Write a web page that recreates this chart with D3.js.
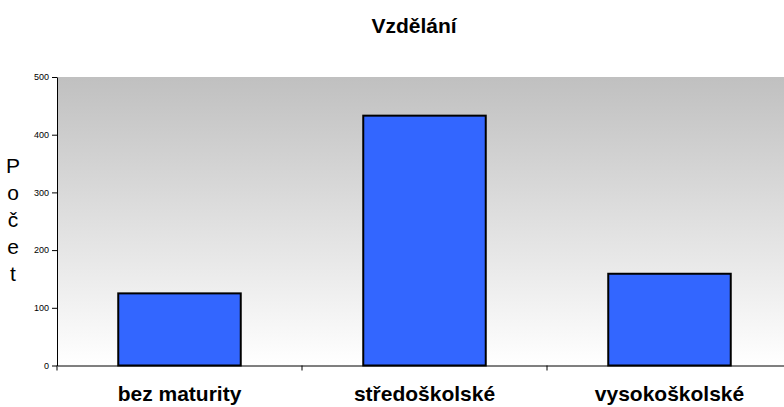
<!DOCTYPE html>
<html><head><meta charset="utf-8">
<script src="https://cdn.jsdelivr.net/npm/d3@7"></script>
<style>body{margin:0;background:#fff}svg{display:block}</style>
</head><body>
<script>
const categories = ["bez maturity", "středoškolské", "vysokoškolské"];
const values = [125, 433, 159];
const yTicks = [0, 100, 200, 300, 400, 500];
const title = "Vzdělání";
const yLabel = "Počet";

const W = 784, H = 407;
const m = {left: 57, top: 77, right: -8, bottom: 41.5};
const FONT = "Liberation Sans, Arial, sans-serif";
const svg = d3.select("body").append("svg").attr("width", W).attr("height", H);
const defs = svg.append("defs");
const g = defs.append("linearGradient").attr("id", "bg").attr("x1", 0).attr("y1", 0).attr("x2", 0).attr("y2", 1);
g.append("stop").attr("offset", "0%").attr("stop-color", "#c0c0c0");
g.append("stop").attr("offset", "100%").attr("stop-color", "#ffffff");

const x = d3.scaleBand().domain(categories).range([m.left, W - m.right]).paddingInner(0.5).paddingOuter(0.25);
const xb = d3.scaleBand().domain(categories).range([m.left, W - m.right]);
const y = d3.scaleLinear().domain([0, 500]).range([H - m.bottom, m.top]);

svg.append("rect").attr("x", m.left).attr("y", m.top).attr("width", W - m.right - m.left).attr("height", y(0) - m.top).attr("fill", "url(#bg)");

svg.selectAll("rect.bar").data(values).join("rect").attr("class", "bar")
  .attr("x", (d, i) => x(categories[i])).attr("width", x.bandwidth())
  .attr("y", d => y(d)).attr("height", d => y(0) - y(d))
  .attr("fill", "#3366ff").attr("stroke", "#000").attr("stroke-width", 2);

const ya = svg.append("g").attr("transform", `translate(${m.left},0)`)
  .call(d3.axisLeft(y).tickValues(yTicks).tickSize(5).tickSizeOuter(0));
ya.select(".domain").attr("stroke", "#000");
ya.selectAll("text").attr("font-family", FONT).attr("font-size", 9).attr("fill", "#000");

const xa = svg.append("g").attr("transform", `translate(0,${y(0)})`)
  .call(d3.axisBottom(xb).tickSize(5).tickSizeOuter(0));
xa.select(".domain").attr("stroke", "#000");
xa.selectAll(".tick line").attr("transform", function(){ return `translate(${-xb.bandwidth()/2},0)`; });
xa.selectAll("text").attr("font-family", FONT).attr("font-size", 21)
  .attr("font-weight", "bold").attr("fill", "#000").attr("y", 0).attr("dy", 0)
  .attr("transform", `translate(0,${401 - y(0)})`);

svg.append("text").attr("x", 414).attr("y", 33).attr("text-anchor", "middle")
  .attr("font-family", FONT).attr("font-size", 21).attr("font-weight", "bold").text(title);

svg.append("g").selectAll("text").data(Array.from(yLabel)).join("text")
  .attr("x", 13).attr("y", (d, i) => 173 + i * 27).attr("text-anchor", "middle")
  .attr("font-family", FONT).attr("font-size", 21).text(d => d);
</script>
</body></html>
